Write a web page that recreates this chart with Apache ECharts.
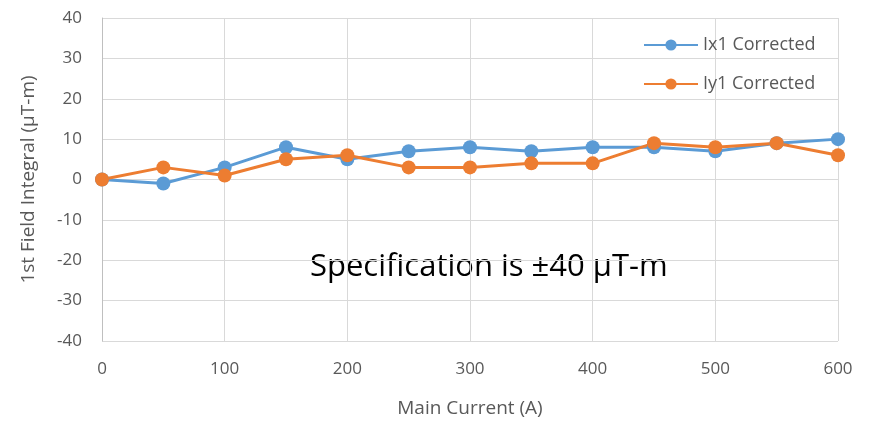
<!DOCTYPE html>
<html><head><meta charset="utf-8">
<script src="https://cdn.jsdelivr.net/npm/echarts@6/dist/echarts.min.js"></script>
<style>html,body{margin:0;padding:0;background:#fff}#c{width:873px;height:423px}</style>
</head><body><div id="c"></div>
<script>
const currents = [0, 50, 100, 150, 200, 250, 300, 350, 400, 450, 500, 550, 600];
const ix1 = [0, -1, 3, 8, 5, 7, 8, 7, 8, 8, 7, 9, 10];
const iy1 = [0, 3, 1, 5, 6, 3, 3, 4, 4, 9, 8, 9, 6];
const xTitle = 'Main Current (A)';
const yTitle = '1st Field Integral (\u00b5T-m)';
const note = 'Specification is \u00b140 \u03bcT-m';

const font = '"Open Sans", sans-serif';
const chart = echarts.init(document.getElementById('c'));
chart.setOption({
  animation: false,
  grid: {left: 102, right: 35, top: 18, bottom: 82},
  legend: {
    orient: 'vertical', left: 638, top: 31, itemGap: 21,
    itemWidth: 54, itemHeight: 14,
    textStyle: {color: '#595959', fontSize: 18, fontFamily: font},
    data: ['Ix1 Corrected', 'Iy1 Corrected']
  },
  xAxis: {
    type: 'value', min: 0, max: 600, interval: 100,
    name: xTitle, nameLocation: 'middle', nameGap: 58,
    nameTextStyle: {color: '#595959', fontSize: 19, fontFamily: font},
    axisLine: {show: false}, axisTick: {show: false},
    axisLabel: {color: '#595959', fontSize: 17, fontFamily: font, margin: 20},
    splitLine: {show: true, lineStyle: {color: '#d9d9d9', width: 1}}
  },
  yAxis: {
    type: 'value', min: -40, max: 40, interval: 10,
    name: yTitle, nameLocation: 'middle', nameGap: 64,
    nameTextStyle: {color: '#595959', fontSize: 19, fontFamily: font},
    axisLine: {show: true, lineStyle: {color: '#bfbfbf'}}, axisTick: {show: false},
    axisLabel: {color: '#595959', fontSize: 17, fontFamily: font, margin: 20},
    splitLine: {show: true, lineStyle: {color: '#d9d9d9', width: 1}}
  },
  series: [
    {name: 'Ix1 Corrected', type: 'line', data: currents.map((c, i) => [c, ix1[i]]),
     symbol: 'circle', symbolSize: 14, itemStyle: {color: '#5b9bd5'},
     lineStyle: {color: '#5b9bd5', width: 3}},
    {name: 'Iy1 Corrected', type: 'line', data: currents.map((c, i) => [c, iy1[i]]),
     symbol: 'circle', symbolSize: 14, itemStyle: {color: '#ed7d31'},
     lineStyle: {color: '#ed7d31', width: 3}}
  ],
  graphic: [{
    type: 'text', left: 310, top: 252,
    style: {text: note, fill: '#000', fontSize: 31, fontFamily: font}
  }]
});
</script></body></html>
